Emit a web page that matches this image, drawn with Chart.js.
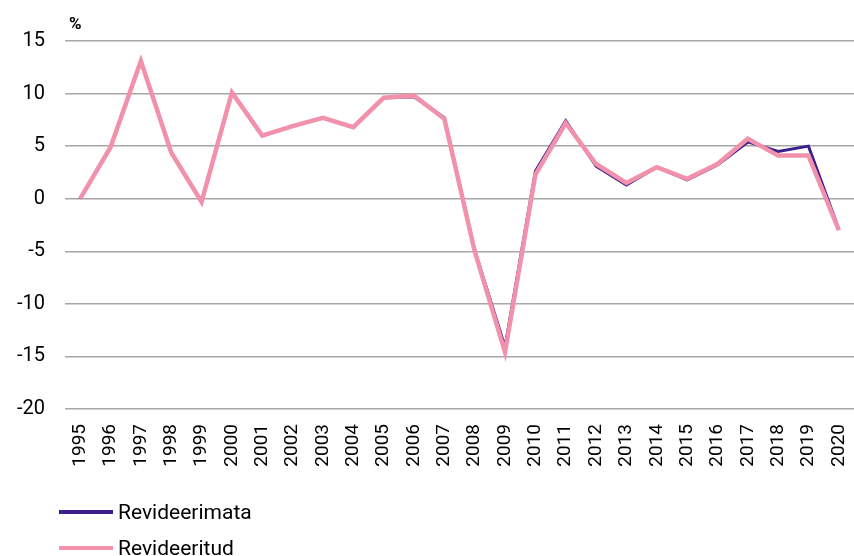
<!DOCTYPE html>
<html>
<head>
<meta charset="utf-8">
<script src="https://cdn.jsdelivr.net/npm/chart.js@4"></script>
<style>
  body { margin: 0; background: #fff; font-family: Roboto, sans-serif; overflow: hidden; }
  #wrap { position: relative; width: 854px; height: 556px; overflow: hidden; }
  #legend { position: absolute; left: 59px; top: 494px; }
  .item { display: flex; align-items: center; height: 36px; font-size: 21px; color: #000; }
  .item span.line { display: inline-block; width: 54px; height: 4px; margin-right: 5px; }
</style>
</head>
<body>
<div id="wrap">
  <canvas id="chartLine" width="854" height="556"></canvas>
  <div id="legend"></div>
</div>
<script>
var years = ['1995', '1996', '1997', '1998', '1999', '2000', '2001', '2002', '2003', '2004',
             '2005', '2006', '2007', '2008', '2009', '2010', '2011', '2012', '2013', '2014',
             '2015', '2016', '2017', '2018', '2019', '2020'];

var revideerimata = [0, 4.9, 13.1, 4.4, -0.3, 10.1, 6.0, 6.9, 7.7, 6.8,
                     9.6, 9.7, 7.7, -4.9, -14.1, 2.6, 7.4, 3.1, 1.3, 3.0,
                     1.8, 3.2, 5.4, 4.5, 5.0, -2.9];

var revideeritud = [0, 4.9, 13.1, 4.4, -0.3, 10.1, 6.0, 6.9, 7.7, 6.8,
                    9.6, 9.8, 7.6, -5.0, -14.6, 2.3, 7.2, 3.3, 1.5, 3.0,
                    1.9, 3.3, 5.7, 4.1, 4.1, -3.0];

var yTicks = [-20, -15, -10, -5, 0, 5, 10, 15];

// "%" above the y axis
var unitLabel = {
    id: 'unitLabel',
    afterDraw: function (chart) {
        var ctx = chart.ctx;
        ctx.save();
        ctx.font = 'bold 17px Roboto';
        ctx.fillStyle = '#000';
        ctx.textBaseline = 'middle';
        ctx.fillText('%', 69, 25);
        ctx.restore();
    }
};

var ourLine = document.getElementById('chartLine');

var lineChart = new Chart(ourLine, {
    type: 'line',
    data: {
        labels: years,
        datasets: [
            {
                label: 'Revideerimata',
                data: revideerimata,
                borderColor: '#3c1e8c',
                backgroundColor: '#3c1e8c',
                borderWidth: 3,
                pointRadius: 0,
                tension: 0,
                order: 2
            },
            {
                label: 'Revideeritud',
                data: revideeritud,
                borderColor: '#f191ab',
                backgroundColor: '#f191ab',
                borderWidth: 4.5,
                pointRadius: 0,
                tension: 0,
                order: 1
            }
        ]
    },
    options: {
        responsive: false,
        animation: false,
        layout: { padding: { top: 41, right: 0, bottom: 87, left: 0 } },
        plugins: {
            legend: { display: false },
            tooltip: { enabled: false }
        },
        scales: {
            x: {
                offset: true,
                grid: { display: false, drawTicks: false },
                border: { display: false },
                afterFit: function (scale) {
                    scale.height = 60;
                    scale.paddingLeft = 0;
                    scale.paddingRight = 0;
                },
                ticks: {
                    autoSkip: false,
                    minRotation: 90,
                    maxRotation: 90,
                    padding: 15,
                    color: '#000',
                    font: { family: 'Roboto', size: 19 }
                }
            },
            y: {
                min: -20,
                max: 15,
                afterFit: function (scale) { scale.width = 65; },
                afterBuildTicks: function (scale) {
                    scale.ticks = yTicks.map(function (v) { return { value: v }; });
                },
                grid: { color: '#a6a6a6', lineWidth: 1.5, drawTicks: false },
                border: { display: false },
                ticks: {
                    padding: 20,
                    color: '#000',
                    font: { family: 'Roboto', size: 20 }
                }
            }
        }
    },
    plugins: [unitLabel]
});

// legend stacked below the chart
var legendBox = document.getElementById('legend');
lineChart.data.datasets.forEach(function (ds) {
    var row = document.createElement('div');
    row.className = 'item';
    var sw = document.createElement('span');
    sw.className = 'line';
    sw.style.background = ds.borderColor;
    row.appendChild(sw);
    row.appendChild(document.createTextNode(ds.label));
    legendBox.appendChild(row);
});
</script>
</body>
</html>
